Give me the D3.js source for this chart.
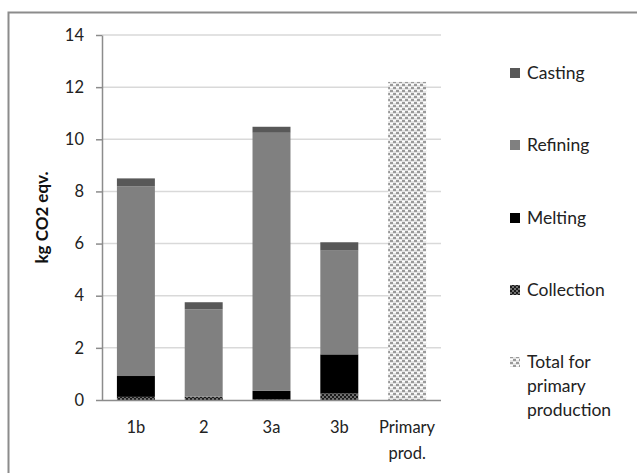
<!DOCTYPE html>
<html>
<head>
<meta charset="utf-8">
<script src="https://cdn.jsdelivr.net/npm/d3@7"></script>
<style>
  html, body { margin: 0; padding: 0; background: #fff; }
  svg { display: block; font-family: Lato, "Open Sans", sans-serif; }
</style>
</head>
<body>
<svg id="chart" width="637" height="473"></svg>
<script>
// Emissions per scenario, kg CO2 eqv., stacked by process stage
const categories = ["1b", "2", "3a", "3b", "Primary prod."];
const collection = [0.12, 0.13, 0.02, 0.25, 0];
const melting    = [0.80, 0.00, 0.33, 1.50, 0];
const refining   = [7.28, 3.35, 9.90, 3.98, 0];
const casting    = [0.30, 0.27, 0.23, 0.32, 0];
const primaryTotal = [0, 0, 0, 0, 12.2];
const yTicks = [0, 2, 4, 6, 8, 10, 12, 14];

const stageKeys = ["collection", "melting", "refining", "casting", "primary"];
const stageValues = { collection, melting, refining, casting, primary: primaryTotal };
const legendItems = [
  { key: "casting", label: ["Casting"] },
  { key: "refining", label: ["Refining"] },
  { key: "melting", label: ["Melting"] },
  { key: "collection", label: ["Collection"] },
  { key: "primary", label: ["Total for", "primary", "production"] }
];

const rows = categories.map((c, i) => {
  const r = { category: c };
  stageKeys.forEach(k => r[k] = stageValues[k][i]);
  return r;
});

const svg = d3.select("#chart");
const defs = svg.append("defs");

// dark checker fill for collection
const pc = defs.append("pattern").attr("id", "patCollection")
  .attr("patternUnits", "userSpaceOnUse").attr("width", 4).attr("height", 4);
pc.append("rect").attr("width", 4).attr("height", 4).attr("fill", "#6e6e6e");
pc.append("rect").attr("width", 2).attr("height", 2).attr("fill", "#1a1a1a");
pc.append("rect").attr("x", 2).attr("y", 2).attr("width", 2).attr("height", 2).attr("fill", "#1a1a1a");

// light lattice fill for primary production
const pp = defs.append("pattern").attr("id", "patPrimary")
  .attr("patternUnits", "userSpaceOnUse").attr("width", 6).attr("height", 6);
pp.append("rect").attr("width", 6).attr("height", 6).attr("fill", "#e4e4e4");
pp.append("rect").attr("x", 0).attr("y", 0).attr("width", 3).attr("height", 2).attr("fill", "#9a9a9a");
pp.append("rect").attr("x", 3).attr("y", 3).attr("width", 3).attr("height", 2).attr("fill", "#9a9a9a");
pp.append("rect").attr("x", 3).attr("y", 0).attr("width", 3).attr("height", 1).attr("fill", "#ffffff");
pp.append("rect").attr("x", 0).attr("y", 3).attr("width", 3).attr("height", 1).attr("fill", "#ffffff");

const fills = {
  collection: "url(#patCollection)",
  melting: "#000000",
  refining: "#808080",
  casting: "#585858",
  primary: "url(#patPrimary)"
};

// chart frame (top and left edges)
svg.append("path")
  .attr("d", "M8.5,480 L8.5,12.5 L645,12.5")
  .attr("fill", "none").attr("stroke", "#8c8c8c").attr("stroke-width", 2);

const plot = { left: 102, right: 441, top: 35, bottom: 400 };

const x = d3.scaleBand().domain(categories)
  .range([plot.left, plot.right]).paddingInner(0.44).paddingOuter(0.22);
const y = d3.scaleLinear().domain([0, 14]).range([plot.bottom, plot.top]);

// gridlines
svg.append("g").selectAll("line").data(yTicks.filter(t => t > 0)).join("line")
  .attr("x1", plot.left).attr("x2", plot.right)
  .attr("y1", d => y(d)).attr("y2", d => y(d))
  .attr("stroke", "#d9d9d9").attr("stroke-width", 1.5);

// stacked bars
const stack = d3.stack().keys(stageKeys)(rows);
svg.append("g").selectAll("g").data(stack).join("g")
  .attr("fill", s => fills[s.key])
  .selectAll("rect").data(s => s.filter(d => d[1] - d[0] > 0)).join("rect")
  .attr("x", d => x(d.data.category))
  .attr("width", x.bandwidth())
  .attr("y", d => y(d[1]))
  .attr("height", d => y(d[0]) - y(d[1]));

// y axis
const yAxis = svg.append("g").attr("transform", `translate(${plot.left},0)`)
  .call(d3.axisLeft(y).tickValues(yTicks).tickSize(6).tickPadding(12).tickSizeOuter(0));
yAxis.select(".domain").attr("stroke", "#8c8c8c").attr("stroke-width", 1.5);
yAxis.selectAll(".tick line").attr("stroke", "#8c8c8c").attr("stroke-width", 1.5);
yAxis.selectAll(".tick text").attr("fill", "#222").style("font-size", "16.5px")
  .style("font-family", "Lato, sans-serif");

// x axis baseline and labels
const xAxis = svg.append("g").attr("transform", `translate(0,${plot.bottom})`)
  .call(d3.axisBottom(x).tickSize(0).tickPadding(0));
xAxis.select(".domain").attr("stroke", "#8c8c8c").attr("stroke-width", 1.5)
  .attr("d", `M${plot.left},0.5H${plot.right}`);
xAxis.selectAll(".tick text").each(function (d) {
  const t = d3.select(this).text(null)
    .attr("fill", "#222").style("font-size", "16.5px").style("font-family", "Lato, sans-serif")
    .attr("y", 0).attr("dy", null);
  const words = d.split(" ");
  words.forEach((w, i) => {
    t.append("tspan").attr("x", 0).attr("y", 33 + i * 26).text(w);
  });
});

// y axis title
svg.append("text")
  .attr("transform", `translate(48,${(plot.top + plot.bottom) / 2}) rotate(-90)`)
  .attr("text-anchor", "middle")
  .style("font-size", "17px").style("font-weight", "bold").attr("fill", "#111")
  .text("kg CO2 eqv.");

// legend
const legendTop = [73, 145, 218, 290, 362];
const lg = svg.append("g");
legendItems.forEach((item, i) => {
  const g = lg.append("g").attr("transform", `translate(510,${legendTop[i]})`);
  g.append("rect").attr("x", 0).attr("y", -5).attr("width", 10).attr("height", 10)
    .attr("fill", fills[item.key]);
  const t = g.append("text").attr("x", 17).attr("fill", "#222")
    .style("font-size", "17.5px");
  item.label.forEach((line, j) => {
    t.append("tspan").attr("x", 17).attr("y", j * 24).attr("dy", "0.35em").text(line);
  });
});
</script>
</body>
</html>
